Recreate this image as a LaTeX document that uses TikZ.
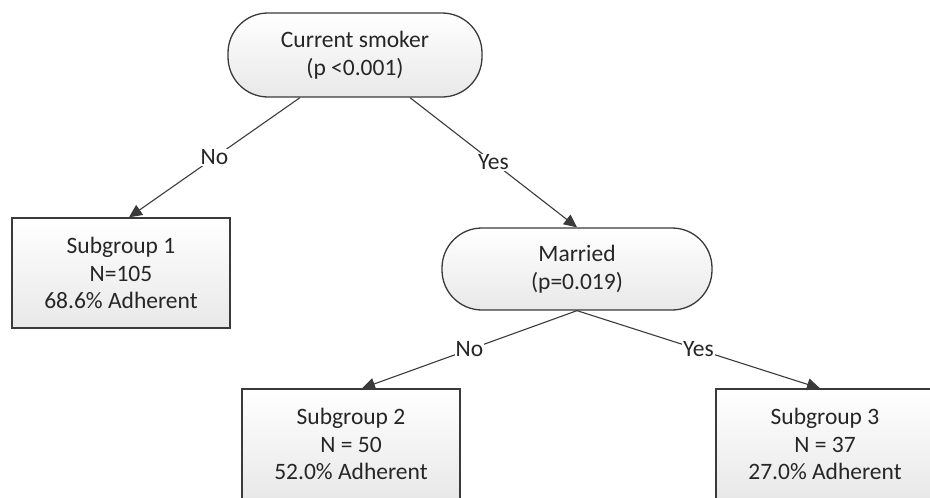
\documentclass[tikz,border=0pt]{standalone}
\usepackage{fontspec}
\setmainfont{Carlito}
\usetikzlibrary{arrows.meta,shapes.misc}
\definecolor{txt}{HTML}{262626}
\definecolor{edge}{HTML}{3A3A3A}
\tikzset{
  base/.style={draw=edge, line width=1.3pt, top color=white, bottom color=black!9,
    text=txt, align=center, font=\fontsize{23.5}{27.5}\selectfont, inner sep=0pt},
  decision/.style={base, rounded corners=40pt},
  leaf/.style={base, minimum width=218pt, minimum height=110pt},
  conn/.style={draw=edge, line width=1.1pt, -{Triangle[length=13pt,width=12pt]}},
  lab/.style={fill=white, text=txt, font=\fontsize{23.5}{27.5}\selectfont, inner sep=1pt},
}
\begin{document}
\begin{tikzpicture}[x=1pt,y=-1pt]
\useasboundingbox (0,0) rectangle (930,498);
\node[decision, minimum width=254pt, minimum height=84pt] (root) at (355,55) {Current smoker\\(p <0.001)};
\node[decision, minimum width=270pt, minimum height=82pt] (mar) at (577,269) {Married\\(p=0.019)};
\node[leaf] (s1) at (121,273) {Subgroup 1\\N=105\\68.6\% Adherent};
\node[leaf] (s2) at (351,444) {Subgroup 2\\N = 50\\52.0\% Adherent};
\node[leaf] (s3) at (825,444) {Subgroup 3\\N = 37\\27.0\% Adherent};
\draw[conn] ([xshift=-55pt]root.south) -- node[lab]{No} ([xshift=8pt]s1.north);
\draw[conn] ([xshift=55pt]root.south) -- node[lab]{Yes} (mar.north);
\draw[conn] (mar.south) -- node[lab]{No} ([xshift=11pt]s2.north);
\draw[conn] (mar.south) -- node[lab]{Yes} ([xshift=-5pt]s3.north);
\end{tikzpicture}
\end{document}
